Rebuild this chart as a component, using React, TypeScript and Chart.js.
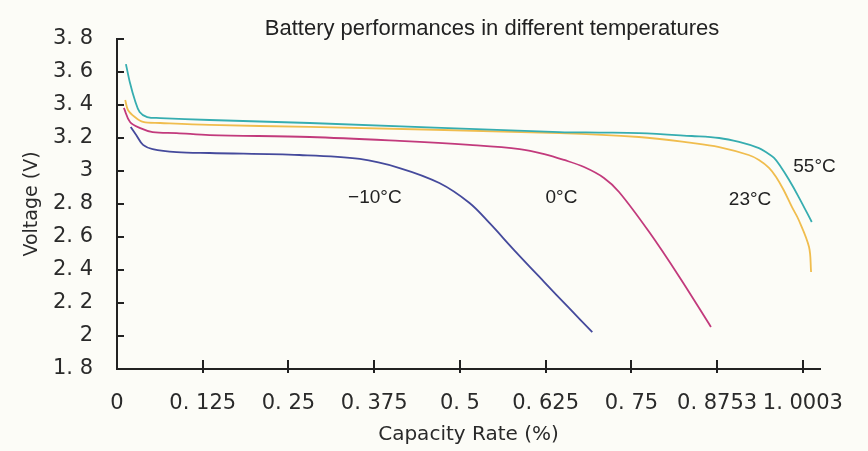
import React, { useEffect, useRef } from "react";
import { Chart, registerables } from "chart.js";

Chart.register(...registerables);

const chartTitle = "Battery performances in different temperatures";
const xAxisTitle = "Capacity Rate (%)";
const yAxisTitle = "Voltage (V)";

const xTickValues = [0, 0.125, 0.25, 0.375, 0.5, 0.625, 0.75, 0.875, 1.0];
const xTickLabels = ["0", "0. 125", "0. 25", "0. 375", "0. 5", "0. 625", "0. 75", "0. 8753", "1. 0003"];
const yTickValues = [1.8, 2.0, 2.2, 2.4, 2.6, 2.8, 3.0, 3.2, 3.4, 3.6, 3.8];
const yTickLabels = ["1. 8", "2", "2. 2", "2. 4", "2. 6", "2. 8", "3", "3. 2", "3. 4", "3. 6", "3. 8"];

const seriesNames = ["55°C", "23°C", "0°C", "−10°C"];
const seriesColors = ["#36adb0", "#f0bd4e", "#c23a7c", "#454a9c"];

const points55: [number, number][] = [
  [0.013, 3.648], [0.019, 3.533], [0.026, 3.43], [0.033, 3.358], [0.044, 3.327],
  [0.063, 3.321], [0.135, 3.309], [0.281, 3.291], [0.645, 3.236], [0.703, 3.233],
  [0.761, 3.23], [0.838, 3.212], [0.878, 3.2], [0.907, 3.176], [0.936, 3.139],
  [0.946, 3.115], [0.958, 3.079], [0.968, 3.024], [0.98, 2.945], [0.994, 2.842],
  [1.013, 2.691],
];
const points23: [number, number][] = [
  [0.012, 3.43], [0.016, 3.37], [0.026, 3.327], [0.038, 3.297], [0.063, 3.291],
  [0.135, 3.279], [0.281, 3.267], [0.645, 3.23], [0.761, 3.206], [0.838, 3.17],
  [0.878, 3.145], [0.921, 3.097], [0.936, 3.067], [0.951, 3.018], [0.961, 2.964],
  [0.972, 2.885], [0.984, 2.782], [0.994, 2.703], [1.009, 2.539], [1.012, 2.388],
];
const points0: [number, number][] = [
  [0.01, 3.382], [0.019, 3.297], [0.033, 3.261], [0.052, 3.236], [0.087, 3.23],
  [0.135, 3.218], [0.281, 3.206], [0.412, 3.182], [0.514, 3.158], [0.587, 3.133],
  [0.623, 3.103], [0.652, 3.067], [0.681, 3.024], [0.71, 2.958], [0.732, 2.873],
  [0.776, 2.63], [0.82, 2.358], [0.866, 2.055],
];
const pointsM10: [number, number][] = [
  [0.02, 3.267], [0.028, 3.218], [0.038, 3.158], [0.052, 3.133], [0.087, 3.115],
  [0.135, 3.109], [0.266, 3.097], [0.354, 3.073], [0.412, 3.018], [0.47, 2.927],
  [0.514, 2.806], [0.543, 2.685], [0.579, 2.521], [0.623, 2.327], [0.659, 2.17],
  [0.693, 2.024],
];
const seriesPoints = [points55, points23, points0, pointsM10];

const tempLabelX = [1.017, 0.923, 0.648, 0.376];
const tempLabelY = [2.994, 2.794, 2.806, 2.806];

const decorPlugin = {
  id: "decor",
  beforeDraw(chart: any) {
    const { ctx, width, height } = chart;
    ctx.save();
    ctx.fillStyle = "#fcfcf7";
    ctx.fillRect(0, 0, width, height);
    ctx.restore();
  },
  afterDraw(chart: any) {
    const { ctx, chartArea, scales } = chart;
    const { left, bottom } = chartArea;
    const x = scales.x;
    const y = scales.y;
    ctx.save();
    ctx.strokeStyle = "#222";
    ctx.lineWidth = 2;
    ctx.beginPath();
    yTickValues.forEach((v) => {
      if (v === 1.8) return;
      const py = Math.round(y.getPixelForValue(v));
      ctx.moveTo(left, py);
      ctx.lineTo(left + 7, py);
    });
    xTickValues.forEach((v) => {
      if (v === 0) return;
      const px = Math.round(x.getPixelForValue(v));
      ctx.moveTo(px, bottom - 9);
      ctx.lineTo(px, bottom + 4);
    });
    ctx.stroke();

    ctx.fillStyle = "#222";
    ctx.textAlign = "center";
    ctx.textBaseline = "alphabetic";
    ctx.font = '22px "Liberation Sans", Arial, sans-serif';
    ctx.fillText(chartTitle, 492, 35);

    ctx.font = '19px "Liberation Sans", Arial, sans-serif';
    seriesNames.forEach((name, i) => {
      ctx.fillText(name, x.getPixelForValue(tempLabelX[i]), y.getPixelForValue(tempLabelY[i]));
    });
    ctx.restore();
  },
};

export default function App() {
  const canvasRef = useRef<HTMLCanvasElement | null>(null);

  useEffect(() => {
    if (!canvasRef.current) return;
    const chart = new Chart(canvasRef.current, {
      type: "line",
      data: {
        datasets: seriesPoints.map((pts, i) => ({
          label: seriesNames[i],
          data: pts.map(([px, py]) => ({ x: px, y: py })),
          borderColor: seriesColors[i],
          backgroundColor: seriesColors[i],
          borderWidth: 1.8,
          pointRadius: 0,
          fill: false,
          tension: 0.35,
          cubicInterpolationMode: "default" as const,
        })),
      },
      options: {
        responsive: false,
        animation: false,
        layout: { padding: { left: 0, top: 39, right: 48, bottom: 0 } },
        plugins: {
          legend: { display: false },
          title: { display: false },
          tooltip: { enabled: false },
        },
        scales: {
          x: {
            type: "linear",
            min: 0,
            max: 1.025,
            grid: { display: false, drawTicks: false },
            border: { display: true, color: "#222", width: 2 },
            afterBuildTicks: (scale: any) => {
              scale.ticks = xTickValues.map((v) => ({ value: v }));
            },
            afterFit: (scale: any) => {
              scale.height = 82;
            },
            ticks: {
              autoSkip: false,
              maxRotation: 0,
              padding: 22,
              color: "#2a2a2a",
              font: { family: '"DejaVu Sans", sans-serif', size: 21 },
              callback: (_v: any, i: number) => xTickLabels[i],
            },
            title: {
              display: true,
              text: xAxisTitle,
              color: "#2a2a2a",
              font: { family: '"DejaVu Sans", sans-serif', size: 20 },
              padding: { top: 0, bottom: 4 },
            },
          },
          y: {
            type: "linear",
            min: 1.8,
            max: 3.8,
            grid: { display: false, drawTicks: false },
            border: { display: true, color: "#222", width: 2 },
            afterBuildTicks: (scale: any) => {
              scale.ticks = yTickValues.map((v) => ({ value: v }));
            },
            afterFit: (scale: any) => {
              scale.width = 117;
            },
            ticks: {
              autoSkip: false,
              padding: 24,
              color: "#2a2a2a",
              font: { family: '"DejaVu Sans", sans-serif', size: 21 },
              callback: (_v: any, i: number) => yTickLabels[i],
            },
            title: {
              display: true,
              text: yAxisTitle,
              color: "#2a2a2a",
              font: { family: '"DejaVu Sans", sans-serif', size: 19 },
              padding: { top: 21, bottom: 0 },
            },
          },
        },
      },
      plugins: [decorPlugin],
    });
    return () => chart.destroy();
  }, []);

  return (
    <div style={{ position: "absolute", left: 0, top: 0, width: 868, height: 451 }}>
      <canvas ref={canvasRef} width={868} height={451} style={{ display: "block" }} />
    </div>
  );
}
